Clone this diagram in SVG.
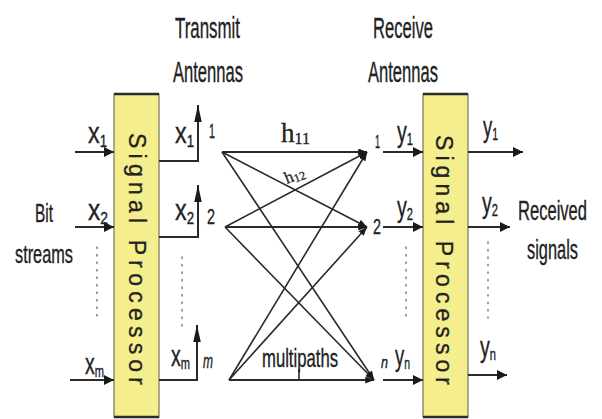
<svg xmlns="http://www.w3.org/2000/svg" width="602" height="419" viewBox="0 0 602 419">
<defs>
<style>
.t{font-family:"Liberation Sans",Arial,sans-serif;fill:#222;stroke:#222;stroke-width:0.35}
.big{font-size:29px}
.v{font-size:30px}
.s{font-size:17px}
.num{font-size:20px}
.it{font-style:italic}
.sp{font-family:"Liberation Sans",Arial,sans-serif;font-size:23px;fill:#222;stroke:#222;stroke-width:0.3}
.box{fill:#F5EE8C;stroke:#5a5a40;stroke-width:1}
.edge{stroke:#2f2a2a;stroke-width:2.5}
.ln{fill:none;stroke:#2a2a2a;stroke-width:2}
.mp{fill:none;stroke:#2a2a2a;stroke-width:1.6}
.dot{fill:none;stroke:#888;stroke-width:1.6;stroke-dasharray:1.5 6;stroke-linecap:round}
.serif{font-family:"Liberation Serif","Times New Roman",serif;fill:#222;stroke:#222;stroke-width:0.3}
</style>
<marker id="ah" viewBox="0 0 10 10" refX="10" refY="5" markerUnits="userSpaceOnUse" markerWidth="10" markerHeight="10" orient="auto">
<path d="M0,0 L10,5 L0,10 z" fill="#1a1a1a"/>
</marker>
<marker id="ahs" viewBox="0 0 10 8" refX="10" refY="4" markerUnits="userSpaceOnUse" markerWidth="10" markerHeight="7" orient="auto">
<path d="M0,0 L10,4 L0,8 z" fill="#1a1a1a"/>
</marker>
<marker id="aht" viewBox="0 0 18 8" refX="18" refY="4" markerUnits="userSpaceOnUse" markerWidth="17" markerHeight="8" orient="auto">
<path d="M0,0 L18,4 L0,8 z" fill="#1a1a1a"/>
</marker>
</defs>
<rect width="602" height="419" fill="#fff"/>

<g id="title-transmit">
<text class="t big" x="175" y="38" textLength="65" lengthAdjust="spacingAndGlyphs">Transmit</text>
<text class="t big" x="173" y="82" textLength="70" lengthAdjust="spacingAndGlyphs">Antennas</text>
</g>
<g id="title-receive">
<text class="t big" x="373" y="38" textLength="60" lengthAdjust="spacingAndGlyphs">Receive</text>
<text class="t big" x="368" y="82" textLength="70" lengthAdjust="spacingAndGlyphs">Antennas</text>
</g>
<g id="bit-streams">
<text class="t" style="font-size:25px" x="35" y="222" textLength="18" lengthAdjust="spacingAndGlyphs">Bit</text>
<text class="t" style="font-size:25px" x="15" y="263" textLength="58" lengthAdjust="spacingAndGlyphs">streams</text>
</g>
<g id="received-signals">
<text class="t" style="font-size:28px" x="518" y="220" textLength="69" lengthAdjust="spacingAndGlyphs">Received</text>
<text class="t" style="font-size:28px" x="527" y="259" textLength="51" lengthAdjust="spacingAndGlyphs">signals</text>
</g>

<g id="sp-tx">
<rect class="box" x="114" y="94" width="45" height="323"/>
<line class="edge" x1="114" y1="94" x2="159" y2="94"/>
<line class="edge" x1="114" y1="417" x2="159" y2="417"/>
<text class="sp" transform="translate(129,133) rotate(90)" textLength="252" lengthAdjust="spacing">Signal Processor</text>
</g>
<g id="sp-rx">
<rect class="box" x="423" y="94" width="45" height="323"/>
<line class="edge" x1="423" y1="94" x2="468" y2="94"/>
<line class="edge" x1="423" y1="417" x2="468" y2="417"/>
<text class="sp" transform="translate(436,135) rotate(90)" textLength="250" lengthAdjust="spacing">Signal Processor</text>
</g>

<g id="connectors">
<path class="ln" d="M75,152 H114" marker-end="url(#ah)"/>
<path class="ln" d="M75,227 H114" marker-end="url(#ah)"/>
<path class="ln" d="M70,380 H114" marker-end="url(#ah)"/>
<path class="ln" d="M159,161 H198 V105" marker-end="url(#aht)"/>
<path class="ln" d="M159,237 H198 V185" marker-end="url(#aht)"/>
<path class="ln" d="M159,380 H197 V325" marker-end="url(#aht)"/>
<path class="ln" d="M383,152 H423" marker-end="url(#ah)"/>
<path class="ln" d="M383,227 H423" marker-end="url(#ah)"/>
<path class="ln" d="M383,380 H423" marker-end="url(#ah)"/>
<path class="ln" d="M468,152 H523" marker-end="url(#ah)"/>
<path class="ln" d="M468,227 H510" marker-end="url(#ah)"/>
<path class="ln" d="M468,375 H507" marker-end="url(#ah)"/>
<path class="mp" style="stroke-width:2.2" d="M222,152 L367,152" marker-end="url(#ahs)"/>
<path class="mp" d="M222,152 L367,227" marker-end="url(#ahs)"/>
<path class="mp" d="M222,152 L374,380" marker-end="url(#ahs)"/>
<path class="mp" d="M225,227 L367,152" marker-end="url(#ahs)"/>
<path class="mp" style="stroke-width:2.2" d="M225,227 L367,227" marker-end="url(#ahs)"/>
<path class="mp" d="M225,227 L374,380" marker-end="url(#ahs)"/>
<path class="mp" d="M229,380 L367,152" marker-end="url(#ahs)"/>
<path class="mp" d="M229,380 L367,227" marker-end="url(#ahs)"/>
<path class="mp" style="stroke-width:2.2" d="M229,380 L374,380" marker-end="url(#ahs)"/>
<line class="mp" x1="299" y1="369" x2="299" y2="380"/>
<line class="dot" x1="97" y1="247" x2="97" y2="322"/>
<line class="dot" x1="182" y1="257" x2="182" y2="332"/>
<line class="dot" x1="406" y1="247" x2="406" y2="322"/>
<line class="dot" x1="488" y1="242" x2="488" y2="318"/>
</g>

<g id="labels-tx">
<text class="t v" x="88" y="143" textLength="19" lengthAdjust="spacingAndGlyphs">x<tspan class="s" dy="4">1</tspan></text>
<text class="t v" x="88" y="220" textLength="20" lengthAdjust="spacingAndGlyphs">x<tspan class="s" dy="4">2</tspan></text>
<text class="t v" x="85" y="374" textLength="19" lengthAdjust="spacingAndGlyphs">x<tspan class="s" dy="3">m</tspan></text>
<text class="t v" x="175" y="143" textLength="19" lengthAdjust="spacingAndGlyphs">x<tspan class="s" dy="4">1</tspan></text>
<text class="t v" x="175" y="220" textLength="19" lengthAdjust="spacingAndGlyphs">x<tspan class="s" dy="4">2</tspan></text>
<text class="t v" x="171" y="366" textLength="19" lengthAdjust="spacingAndGlyphs">x<tspan class="s" dy="3">m</tspan></text>
<text class="t num" x="209" y="138" textLength="6" lengthAdjust="spacingAndGlyphs">1</text>
<text class="t" style="font-size:22px" x="207" y="224" textLength="8" lengthAdjust="spacingAndGlyphs">2</text>
<text class="t num it" x="203" y="368" textLength="10" lengthAdjust="spacingAndGlyphs">m</text>
</g>

<g id="labels-rx">
<text class="t" style="font-size:18px" x="375" y="148" textLength="5" lengthAdjust="spacingAndGlyphs">1</text>
<text class="t v" x="397" y="142" textLength="16" lengthAdjust="spacingAndGlyphs">y<tspan class="s" dy="3">1</tspan></text>
<text class="t" style="font-size:22px" x="373" y="234" textLength="8" lengthAdjust="spacingAndGlyphs">2</text>
<text class="t v" x="397" y="217" textLength="16" lengthAdjust="spacingAndGlyphs">y<tspan class="s" dy="3">2</tspan></text>
<text class="t it" style="font-size:16px" x="381" y="368" textLength="7" lengthAdjust="spacingAndGlyphs">n</text>
<text class="t v" x="395" y="366" textLength="15" lengthAdjust="spacingAndGlyphs">y<tspan class="s" dy="3">n</tspan></text>
<text class="t v" x="483" y="137" textLength="15" lengthAdjust="spacingAndGlyphs">y<tspan class="s" dy="3">1</tspan></text>
<text class="t v" x="482" y="213" textLength="16" lengthAdjust="spacingAndGlyphs">y<tspan class="s" dy="3">2</tspan></text>
<text class="t v" x="480" y="357" textLength="16" lengthAdjust="spacingAndGlyphs">y<tspan class="s" dy="3">n</tspan></text>
</g>

<g id="labels-channel">
<text class="serif" style="font-size:27px" x="281" y="142">h<tspan style="font-size:16px" dy="2">11</tspan></text>
<text class="serif" style="font-size:17px" transform="translate(287,184) rotate(-22)">h<tspan style="font-size:12px" dy="2">12</tspan></text>
<text class="t" style="font-size:25px" x="262" y="367" textLength="76" lengthAdjust="spacingAndGlyphs">multipaths</text>
</g>
</svg>
